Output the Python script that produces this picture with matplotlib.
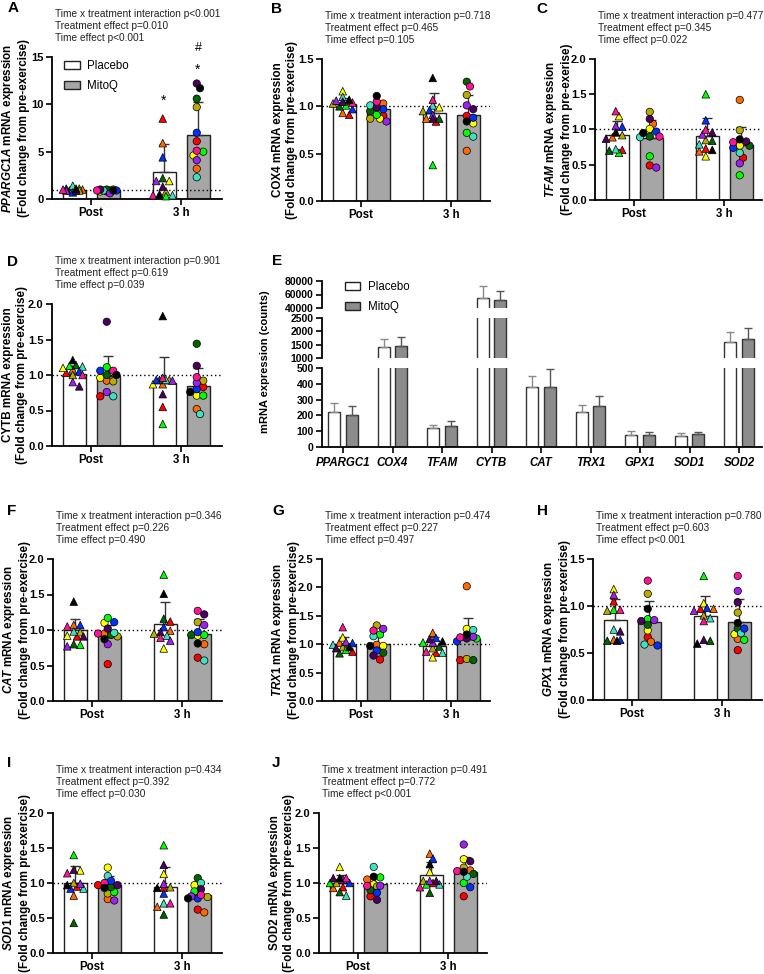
import numpy as np
import matplotlib.pyplot as plt
from matplotlib.patches import Patch

plt.rcParams['font.family'] = 'Liberation Sans'
plt.rcParams['mathtext.fontset'] = 'custom'
plt.rcParams['mathtext.it'] = 'Liberation Sans:italic:bold'
plt.rcParams['mathtext.rm'] = 'Liberation Sans:bold'
plt.rcParams['mathtext.bf'] = 'Liberation Sans:bold'

W, H = 764, 974

# one colour per participant (triangles = placebo, circles = MitoQ)
COLORS = ['#ff0000', '#ff6a00', '#ffff00', '#b8ac00', '#00ff00', '#006400',
          '#40e0c0', '#0030ff', '#a020f0', '#4b0060', '#ff1493', '#000000']

# order of groups: Post placebo, Post MitoQ, 3 h placebo, 3 h MitoQ
A_POST_PLA = [0.9, 1.0, 1.1, 0.9, 1.0, 1.1, 1.4, 0.7, 0.9, 0.9, 1.0, 1.1]
A_POST_MIT = [0.8, 0.9, 0.8, 0.9, 1.0, 1.0, 0.9, 0.9, 0.6, 1.0, 0.9, 0.9]
A_3H_PLA = [8.5, 5.9, 1.9, 0.8, 0.3, 2.2, 0.4, 4.4, 1.9, 1.3, 0.4, 0.5]
A_3H_MIT = [6.1, 3.2, 4.6, 9.7, 5.0, 10.6, 2.3, 7.0, 4.1, 12.2, 5.1, 11.7]
A_MEAN = [1.0, 0.95, 2.9, 6.8]
A_SD = [0.2, 0.15, 2.9, 3.4]

B_POST_PLA = [0.91, 0.93, 1.16, 1.03, 1.01, 1.00, 1.10, 0.97, 1.06, 1.05, 1.04, 1.07]
B_POST_MIT = [0.90, 1.03, 0.87, 0.87, 0.91, 0.95, 1.01, 0.97, 0.84, 0.99, 1.05, 1.11]
B_3H_PLA = [0.84, 0.87, 0.99, 0.95, 0.38, 0.87, 1.01, 0.96, 0.91, 0.87, 1.07, 1.30]
B_3H_MIT = [0.90, 0.53, 0.82, 1.12, 0.72, 1.26, 0.68, 0.88, 1.01, 0.97, 1.21, 0.84]
B_MEAN = [1.02, 0.97, 0.93, 0.91]
B_SD = [0.07, 0.09, 0.21, 0.21]

C_POST_PLA = [0.71, 0.89, 1.19, 0.92, 0.67, 0.70, 0.72, 1.04, 1.05, 0.87, 1.26, 0.96]
C_POST_MIT = [0.49, 1.08, 1.01, 1.25, 0.62, 0.90, 0.89, 0.97, 0.46, 1.15, 0.90, 0.95]
C_3H_PLA = [0.73, 0.69, 0.62, 0.85, 1.50, 0.84, 0.79, 1.13, 0.93, 0.96, 1.00, 0.71]
C_3H_MIT = [0.60, 1.42, 0.77, 0.99, 0.35, 0.77, 0.67, 0.74, 0.52, 0.83, 0.82, 0.86]
C_MEAN = [0.92, 0.88, 0.91, 0.78]
C_SD = [0.20, 0.25, 0.25, 0.26]

D_POST_PLA = [1.03, 1.08, 1.10, 1.00, 1.13, 1.14, 1.12, 1.05, 0.90, 0.84, 1.00, 1.21]
D_POST_MIT = [0.70, 0.92, 0.96, 0.91, 1.11, 1.00, 0.70, 1.06, 0.76, 1.75, 1.06, 1.00]
D_3H_PLA = [0.55, 0.87, 0.87, 0.93, 0.31, 0.93, 0.93, 0.93, 0.92, 0.73, 0.96, 1.83]
D_3H_MIT = [0.83, 0.52, 0.71, 0.92, 0.71, 1.44, 0.45, 0.80, 0.89, 1.13, 0.97, 0.76]
D_MEAN = [1.02, 0.99, 0.89, 0.84]
D_SD = [0.09, 0.28, 0.36, 0.26]

F_POST_PLA = [0.91, 1.07, 0.92, 0.97, 0.79, 0.80, 0.98, 1.07, 0.77, 0.91, 1.05, 1.40]
F_POST_MIT = [0.52, 0.95, 1.10, 0.91, 1.17, 0.93, 0.96, 1.11, 0.80, 1.02, 0.95, 0.87]
F_3H_PLA = [1.12, 0.99, 0.74, 0.95, 1.78, 1.16, 0.92, 1.04, 0.85, 0.97, 0.89, 1.51]
F_3H_MIT = [0.61, 0.80, 0.92, 1.11, 0.93, 0.93, 0.57, 0.97, 1.07, 1.22, 1.27, 0.81]
F_MEAN = [1.00, 0.92, 1.08, 0.95]
F_SD = [0.16, 0.15, 0.31, 0.21]

G_POST_PLA = [0.87, 1.03, 1.12, 0.95, 0.90, 0.84, 0.99, 1.02, 1.04, 0.93, 1.30, 0.95]
G_POST_MIT = [0.73, 0.99, 0.97, 1.33, 1.17, 0.85, 1.14, 0.89, 1.27, 0.80, 1.24, 0.97]
G_3H_PLA = [0.85, 1.20, 0.77, 0.93, 1.03, 0.96, 0.85, 1.11, 1.03, 1.09, 0.87, 1.05]
G_3H_MIT = [0.72, 2.02, 1.27, 0.74, 1.10, 0.72, 1.25, 1.05, 1.13, 1.10, 1.12, 1.17]
G_MEAN = [0.98, 1.00, 0.97, 1.10]
G_SD = [0.14, 0.20, 0.16, 0.36]

H_POST_PLA = [1.05, 0.64, 1.18, 0.95, 0.96, 0.63, 0.75, 0.64, 1.12, 0.73, 0.96, 0.63]
H_POST_MIT = [0.67, 0.62, 0.74, 1.13, 0.86, 0.80, 0.59, 0.58, 0.85, 0.84, 1.27, 0.97]
H_3H_PLA = [0.97, 0.97, 1.03, 0.90, 1.32, 0.63, 0.87, 0.98, 0.95, 0.64, 0.84, 0.60]
H_3H_MIT = [0.53, 0.65, 0.70, 0.93, 0.64, 0.76, 0.71, 0.76, 1.16, 1.04, 1.32, 0.82]
H_MEAN = [0.85, 0.83, 0.89, 0.83]
H_SD = [0.22, 0.22, 0.22, 0.24]

I_POST_PLA = [0.95, 0.82, 1.18, 1.00, 1.40, 0.43, 0.92, 0.92, 0.99, 1.19, 1.14, 0.97]
I_POST_MIT = [0.97, 0.77, 1.22, 0.85, 0.87, 0.94, 1.10, 1.03, 0.75, 0.97, 1.00, 0.93]
I_3H_PLA = [0.93, 0.66, 1.13, 0.94, 1.54, 0.55, 0.71, 0.85, 0.99, 1.26, 0.71, 0.93]
I_3H_MIT = [0.62, 0.58, 0.97, 0.80, 0.88, 1.07, 1.00, 0.78, 0.81, 0.91, 0.83, 0.78]
I_MEAN = [1.00, 0.97, 0.94, 0.83]
I_SD = [0.25, 0.13, 0.29, 0.15]

J_POST_PLA = [0.94, 0.93, 1.23, 1.00, 1.00, 0.87, 0.82, 1.00, 1.05, 1.07, 1.07, 1.07]
J_POST_MIT = [0.81, 1.05, 0.98, 0.95, 1.08, 0.90, 1.23, 0.86, 0.96, 0.76, 0.96, 1.09]
J_3H_PLA = [1.00, 1.42, 1.16, 1.03, 0.98, 0.86, 0.98, 1.35, 1.03, 1.03, 0.94, 1.27]
J_3H_MIT = [0.81, 1.18, 1.34, 1.22, 1.00, 1.13, 1.09, 0.94, 1.55, 1.31, 1.17, 1.16]
J_MEAN = [1.00, 0.98, 1.11, 1.16]
J_SD = [0.12, 0.14, 0.19, 0.21]

# panel E: raw counts
E_GENES = ['PPARGC1', 'COX4', 'TFAM', 'CYTB', 'CAT', 'TRX1', 'GPX1', 'SOD1', 'SOD2']
E_PLA_MEAN = [220, 1400, 120, 55000, 378, 220, 78, 72, 1600]
E_PLA_SD = [60, 300, 22, 17000, 72, 45, 25, 16, 360]
E_MIT_MEAN = [203, 1450, 130, 52000, 380, 258, 73, 80, 1720]
E_MIT_SD = [55, 340, 32, 13000, 115, 62, 24, 17, 400]

TIMEPOINTS = ['Post', '3 h']
STATS = {
    'A': ['p<0.001', 'p=0.010', 'p<0.001'],
    'B': ['p=0.718', 'p=0.465', 'p=0.105'],
    'C': ['p=0.477', 'p=0.345', 'p=0.022'],
    'D': ['p=0.901', 'p=0.619', 'p=0.039'],
    'F': ['p=0.346', 'p=0.226', 'p=0.490'],
    'G': ['p=0.474', 'p=0.227', 'p=0.497'],
    'H': ['p=0.780', 'p=0.603', 'p<0.001'],
    'I': ['p=0.434', 'p=0.392', 'p=0.030'],
    'J': ['p=0.491', 'p=0.772', 'p<0.001'],
}

PLA_FILL = 'white'
MIT_FILL = '#a6a6a6'

fig = plt.figure(figsize=(W / 100, H / 100), dpi=100)


def rect(l, t, r, b):
    return [l / W, 1 - b / H, (r - l) / W, (b - t) / H]


def fx(x):
    return x / W


def fy(y):
    return 1 - y / H


def swarm(vals, ppy, d=6.5, maxw=11.0):
    # spread points sideways (pixels) so markers overlap as little as possible
    vals = np.asarray(vals, float)
    offs = np.zeros(len(vals))
    cands = np.arange(-maxw, maxw + 0.01, d / 2)
    cands = cands[np.argsort(np.abs(cands), kind='stable')]
    placed = []
    for i in np.argsort(-vals):
        y = vals[i] * ppy
        best, bestd = 0.0, -1
        for c in cands:
            md = min([np.hypot(c - px, y - py) for px, py in placed] or [1e9])
            if md >= 0.85 * d:
                best = c
                break
            if md > bestd:
                best, bestd = c, md
        offs[i] = best
        placed.append((best, y))
    return offs


def fold_panel(box, ymax, ystep, groups, means, sds, ylabel, key, letter_xy, fmt='%.1f'):
    l, t, r, b = box
    ax = fig.add_axes(rect(l, t, r, b))
    ppx = 45.0
    ppy = (b - t) / ymax
    ax.set_xlim(-39 / ppx, (r - l - 39) / ppx)
    ax.set_ylim(0, ymax)
    xs = [-17 / ppx, 17 / ppx, 2 - 17 / ppx, 2 + 17 / ppx]
    for i in range(4):
        pla = i % 2 == 0
        ax.bar(xs[i], means[i], width=23 / ppx, color=PLA_FILL if pla else MIT_FILL,
               edgecolor='#222222', linewidth=1, zorder=1)
        ax.errorbar(xs[i], means[i], yerr=[[0], [sds[i]]], fmt='none', ecolor='#333333',
                    elinewidth=1, capsize=3.5, capthick=1, zorder=2)
        jit = swarm(groups[i], ppy) / ppx
        ax.scatter(xs[i] + jit, groups[i], s=30 if pla else 28, c=COLORS,
                   marker='^' if pla else 'o', edgecolors='black', linewidths=0.5,
                   zorder=4, clip_on=False)
    ax.axhline(1, color='black', ls=(0, (1, 2)), lw=1, zorder=3)
    for s in ['top', 'right']:
        ax.spines[s].set_visible(False)
    for s in ['left', 'bottom']:
        ax.spines[s].set_linewidth(1.3)
    ax.set_xticks([0, 2])
    ax.set_xticklabels(TIMEPOINTS, fontweight='bold', fontsize=8.3)
    yt = np.arange(0, ymax + 1e-9, ystep)
    ax.set_yticks(yt)
    ax.set_yticklabels([fmt % v for v in yt], fontweight='bold', fontsize=8)
    ax.tick_params(length=4, width=1.2, pad=2)
    ax.tick_params(axis='x', pad=2)

    fig.text(fx(l - 37), fy((t + b) / 2), ylabel, rotation=90, ha='center', va='center',
             fontsize=8.4, fontweight='bold', linespacing=1.2, multialignment='center')
    st = STATS[key]
    lines = ['Time x treatment interaction ' + st[0], 'Treatment effect ' + st[1],
             'Time effect ' + st[2]]
    for k, line in enumerate(lines):
        fig.text(fx(l + 3), fy(t - 43 + 12.2 * k), line, fontsize=7.3, color='#222222',
                 ha='left', va='center')
    fig.text(fx(letter_xy[0]), fy(letter_xy[1]), key, fontsize=11, fontweight='bold',
             ha='center', va='center')
    return ax, xs


LEG_HANDLES = [Patch(facecolor=PLA_FILL, edgecolor='#222222', linewidth=1),
               Patch(facecolor=MIT_FILL, edgecolor='#222222', linewidth=1)]

# A
axA, xsA = fold_panel((52, 57, 222, 199), 15, 5, [A_POST_PLA, A_POST_MIT, A_3H_PLA, A_3H_MIT],
                      A_MEAN, A_SD,
                      '$\\mathit{PPARGC1A}$ mRNA expression\n(Fold change from pre-exercise)',
                      'A', (13, 8), fmt='%d')
axA.text(xsA[2], 10.4, '*', ha='center', va='center', fontsize=10, clip_on=False)
axA.text(xsA[3], 13.7, '*', ha='center', va='center', fontsize=10, clip_on=False)
axA.text(xsA[3], 15.9, '#', ha='center', va='center', fontsize=9, clip_on=False)
fig.legend(LEG_HANDLES, ['Placebo', 'MitoQ'], loc='upper left',
           bbox_to_anchor=(fx(64), fy(60)), frameon=False, fontsize=8.3,
           handlelength=1.4, handleheight=0.6, handletextpad=0.6, labelspacing=0.7,
           borderpad=0, borderaxespad=0)

fold_panel((322, 59, 490, 201), 1.5, 0.5, [B_POST_PLA, B_POST_MIT, B_3H_PLA, B_3H_MIT],
           B_MEAN, B_SD, 'COX4 mRNA expression\n(Fold change from pre-exercise)', 'B', (277, 9))
fold_panel((595, 59, 762, 200), 2.0, 0.5, [C_POST_PLA, C_POST_MIT, C_3H_PLA, C_3H_MIT],
           C_MEAN, C_SD, '$\\mathit{TFAM}$ mRNA expression\n(Fold change from pre-exerise)',
           'C', (542, 9))
fold_panel((52, 304, 222, 446), 2.0, 0.5, [D_POST_PLA, D_POST_MIT, D_3H_PLA, D_3H_MIT],
           D_MEAN, D_SD, 'CYTB mRNA expression\n(Fold change from pre-exercise)', 'D', (13, 262))
fold_panel((53, 559, 222, 701), 2.0, 0.5, [F_POST_PLA, F_POST_MIT, F_3H_PLA, F_3H_MIT],
           F_MEAN, F_SD, '$\\mathit{CAT}$ mRNA expression\n(Fold change from pre-exercise)',
           'F', (12, 511))
fold_panel((322, 559, 490, 701), 2.5, 0.5, [G_POST_PLA, G_POST_MIT, G_3H_PLA, G_3H_MIT],
           G_MEAN, G_SD, '$\\mathit{TRX1}$ mRNA expression\n(Fold change from pre-exercise)',
           'G', (278, 511))
fold_panel((593, 559, 762, 700), 1.5, 0.5, [H_POST_PLA, H_POST_MIT, H_3H_PLA, H_3H_MIT],
           H_MEAN, H_SD, '$\\mathit{GPX1}$ mRNA expression\n(Fold change from pre-exercise)',
           'H', (542, 511))
fold_panel((53, 813, 222, 953), 2.0, 0.5, [I_POST_PLA, I_POST_MIT, I_3H_PLA, I_3H_MIT],
           I_MEAN, I_SD, '$\\mathit{SOD1}$ mRNA expression\n(Fold change from pre-exercise)',
           'I', (9, 763))
fold_panel((319, 813, 487, 953), 2.0, 0.5, [J_POST_PLA, J_POST_MIT, J_3H_PLA, J_3H_MIT],
           J_MEAN, J_SD, 'SOD2 mRNA expression\n(Fold change from pre-exercise)', 'J', (276, 763))

# E: broken y axis in three pieces
E_L, E_R = 322, 762
segs = [((281, 308), (40000, 80000), [40000, 60000, 80000]),
        ((318, 358), (1000, 2500), [1000, 1500, 2000, 2500]),
        ((368, 447), (0, 500), [0, 100, 200, 300, 400, 500])]
ppx = 49.5
gx = np.arange(len(E_GENES))
for k, ((t, b), lim, ticks) in enumerate(segs):
    ax = fig.add_axes(rect(E_L, t, E_R, b))
    ax.set_xlim(-21 / ppx, (E_R - E_L - 21) / ppx)
    ax.set_ylim(*lim)
    ax.bar(gx - 0.18, E_PLA_MEAN, width=0.24, color=PLA_FILL, edgecolor='#333333', linewidth=1)
    ax.bar(gx + 0.18, E_MIT_MEAN, width=0.24, color='#8c8c8c', edgecolor='#333333', linewidth=1)
    ax.errorbar(gx - 0.18, E_PLA_MEAN, yerr=[np.zeros(len(gx)), E_PLA_SD], fmt='none',
                ecolor='#8a8a8a', elinewidth=1, capsize=3, capthick=1)
    ax.errorbar(gx + 0.18, E_MIT_MEAN, yerr=[np.zeros(len(gx)), E_MIT_SD], fmt='none',
                ecolor='#555555', elinewidth=1, capsize=3, capthick=1)
    for s in ['top', 'right']:
        ax.spines[s].set_visible(False)
    ax.spines['left'].set_linewidth(1.3)
    ax.set_yticks(ticks)
    ax.set_yticklabels([str(v) for v in ticks], fontweight='bold', fontsize=7.5)
    ax.tick_params(length=4, width=1.2, pad=2)
    if k < 2:
        ax.spines['bottom'].set_visible(False)
        ax.set_xticks([])
    else:
        ax.spines['bottom'].set_linewidth(1.3)
        ax.set_xticks(gx)
        ax.set_xticklabels(E_GENES, fontweight='bold', fontstyle='italic', fontsize=8.3)
        ax.tick_params(axis='x', pad=3)
fig.text(fx(265), fy(362), 'mRNA expression (counts)', rotation=90, ha='center', va='center',
         fontsize=8, fontweight='bold')
fig.text(fx(277), fy(261), 'E', fontsize=11, fontweight='bold', ha='center', va='center')
fig.legend(LEG_HANDLES[:1] + [Patch(facecolor='#8c8c8c', edgecolor='#222222', linewidth=1)],
           ['Placebo', 'MitoQ'], loc='upper left', bbox_to_anchor=(fx(345), fy(281)),
           frameon=False, fontsize=8.3, handlelength=1.3, handleheight=0.6,
           handletextpad=0.7, labelspacing=0.7, borderpad=0, borderaxespad=0)

fig.savefig('out.png', dpi=100)
